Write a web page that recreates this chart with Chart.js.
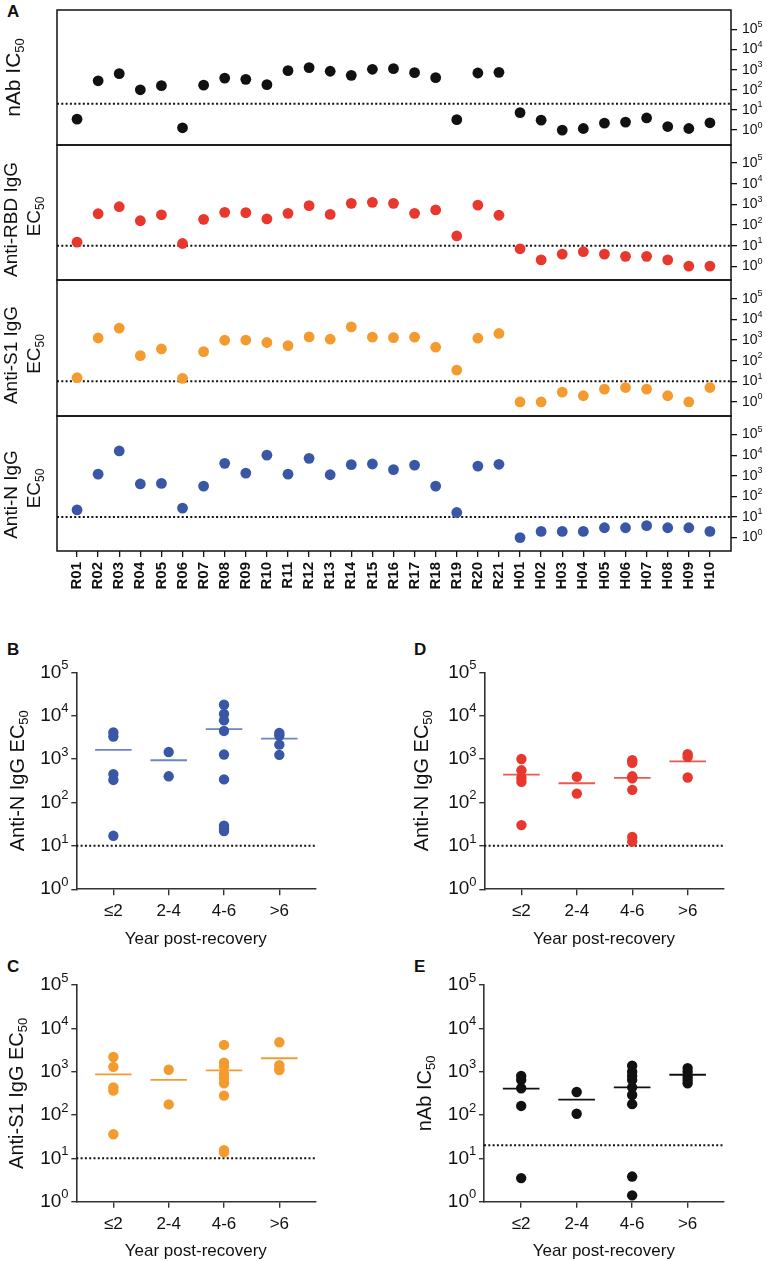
<!DOCTYPE html>
<html>
<head>
<meta charset="utf-8">
<script src="https://cdn.jsdelivr.net/npm/chart.js@4.4.1/dist/chart.umd.min.js"></script>
<style>
  html, body { margin: 0; padding: 0; background: #fff; }
  #fig { position: relative; width: 767px; height: 1261px; overflow: hidden; }
  #fig canvas { position: absolute; }
  .tag { position: absolute; font: bold 17px/1 "Liberation Sans", Arial, sans-serif; color: #111; }
</style>
</head>
<body>
<div id="fig">
  <div class="tag" style="left:7px;top:3px">A</div>
  <div class="tag" style="left:7px;top:641px">B</div>
  <div class="tag" style="left:414px;top:641px">D</div>
  <div class="tag" style="left:7px;top:958px">C</div>
  <div class="tag" style="left:414px;top:958px">E</div>

  <canvas id="a1" width="767" height="167" style="left:0;top:-6px"></canvas>
  <canvas id="a2" width="767" height="167" style="left:0;top:129px"></canvas>
  <canvas id="a3" width="767" height="168" style="left:0;top:264px"></canvas>
  <canvas id="a4" width="767" height="211" style="left:0;top:400px"></canvas>

  <canvas id="b" width="383" height="310" style="left:0;top:648px"></canvas>
  <canvas id="d" width="383" height="310" style="left:384px;top:648px"></canvas>
  <canvas id="c" width="383" height="303" style="left:0;top:961px"></canvas>
  <canvas id="e" width="383" height="303" style="left:384px;top:961px"></canvas>
</div>

<script>
// ---- data ----
const patients = ['R01','R02','R03','R04','R05','R06','R07','R08','R09','R10',
                  'R11','R12','R13','R14','R15','R16','R17','R18','R19','R20','R21',
                  'H01','H02','H03','H04','H05','H06','H07','H08','H09','H10'];

const nabIC50 = [3.5,280,630,100,160,1.3,170,380,330,180,
                 890,1260,830,520,1040,1120,710,400,3.3,680,735,
                 7.4,3.1,1.0,1.2,2.2,2.5,4,1.5,1.2,2.3];
const rbdEC50 = [15,355,775,163,316,13,190,415,400,200,
                 370,870,330,1130,1260,1130,370,540,30,930,300,
                 7.2,2.1,4,5.2,4,3.1,3.1,2.1,1.05,1.05];
const s1EC50  = [15,1260,3800,175,370,14,275,980,1000,760,
                 540,1420,1100,4370,1380,1320,1380,450,35,1230,2090,
                 1,1,3,2,4.2,5,4.2,2,1,5];
const nEC50   = [22,1200,16000,400,425,27,316,4000,1350,10000,
                 1200,7000,1120,3470,3720,2000,3300,316,16.5,2950,3600,
                 1,2,2,2,3,3,3.8,3,3,2];

const yearGroups = ['≤2','2-4','4-6','>6'];

const nByYear   = [[4100,3300,450,330,17],[1450,400],[17900,11000,7800,4450,1270,340,29,25,22],[4000,3500,2150,1250]];
const nMeans    = [1620,940,4880,2950];
const redByYear = [[1000,550,370,300,30],[390,160],[940,820,400,360,195,16,12.5],[1290,1120,375]];
const redMeans  = [440,277,370,880];
const s1ByYear  = [[2180,1290,435,365,36],[1110,176],[4150,1620,1310,890,705,540,280,15.5,13.8],[4770,1410,1175,1090]];
const s1Means   = [870,645,1070,2040];
const nabByYear = [[800,645,415,162,3.5],[340,107],[1370,1000,800,645,435,290,178,3.8,1.4],[1210,1000,760,645,540]];
const nabMeans  = [405,226,435,850];

const nabCutoff = 20;
const ecCutoff = 10;
const logTicks = [1,10,100,1000,10000,100000];

// ---- style ----
const FONT = '"Liberation Sans", Arial, Helvetica, sans-serif';
Chart.defaults.font.family = FONT;
Chart.defaults.color = '#111';
Chart.defaults.animation = false;

const BLACK = '#111111', RED = '#e8372c', ORANGE = '#f49b30', BLUE = '#3a57a6';

// box around each strip of panel A
const framePlugin = {
  id: 'frame',
  afterDatasetsDraw(chart, args, opts) {
    if (!opts.show) return;
    const a = chart.chartArea, ctx = chart.ctx;
    ctx.save();
    ctx.strokeStyle = '#111';
    ctx.lineWidth = 1.5;
    ctx.strokeRect(a.left, a.top, a.right - a.left, a.bottom - a.top);
    ctx.restore();
  }
};

// the y ticks print "10"; this adds the power as a superscript next to it
const expTicks = {
  id: 'expTicks',
  afterDraw(chart, args, opts) {
    if (!opts.size) return;
    const s = chart.scales.y, ctx = chart.ctx;
    const base = opts.size, small = Math.round(base * 0.66);
    const tl = s.options.grid.tickLength, pad = s.options.ticks.padding;
    ctx.save();
    ctx.fillStyle = '#111';
    ctx.textBaseline = 'middle';
    ctx.textAlign = 'left';
    ctx.font = base + 'px ' + FONT;
    const w10 = ctx.measureText('10').width;
    ctx.font = small + 'px ' + FONT;
    s.ticks.forEach(t => {
      const y = s.getPixelForValue(t.value);
      const x = s.position === 'right' ? s.left + tl + pad + w10 : s.right - tl - pad;
      ctx.fillText(String(Math.round(Math.log10(t.value))), x, y - base * 0.36);
    });
    ctx.restore();
  }
};

// rotated axis titles with a subscript part
const sideTitle = {
  id: 'sideTitle',
  afterDraw(chart, args, opts) {
    if (!opts.lines) return;
    const ctx = chart.ctx, a = chart.chartArea;
    const cy = (a.top + a.bottom) / 2;
    const size = opts.size, small = Math.round(size * 0.64);
    opts.lines.forEach((ln, i) => {
      ctx.save();
      ctx.translate(opts.x[i], cy + (opts.dy ? opts.dy[i] : 0));
      ctx.rotate(-Math.PI / 2);
      ctx.fillStyle = '#111';
      ctx.textBaseline = 'middle';
      ctx.textAlign = 'left';
      ctx.font = size + 'px ' + FONT;
      const w1 = ctx.measureText(ln[0]).width;
      ctx.font = small + 'px ' + FONT;
      const w2 = ln[1] ? ctx.measureText(ln[1]).width : 0;
      const x0 = -(w1 + w2) / 2;
      ctx.font = size + 'px ' + FONT;
      ctx.fillText(ln[0], x0, 0);
      if (ln[1]) {
        ctx.font = small + 'px ' + FONT;
        ctx.fillText(ln[1], x0 + w1, size * 0.32);
      }
      ctx.restore();
    });
  }
};
Chart.register(framePlugin, expTicks, sideTitle);

// ---- panel A strips ----
const xMinA = -0.95, xMaxA = 31.0;

function makeStrip(id, values, color, cutoff, title, yExp, isBottom) {
  return new Chart(document.getElementById(id), {
    type: 'scatter',
    data: {
      datasets: [
        { data: values.map((v, i) => ({ x: i, y: v })),
          backgroundColor: color, borderColor: color, borderWidth: 0,
          pointRadius: 5.4, pointHoverRadius: 5.4 },
        { data: [{ x: xMinA, y: cutoff }, { x: xMaxA, y: cutoff }],
          showLine: true, borderColor: '#111', borderWidth: 2,
          borderDash: [2, 2.3], pointRadius: 0 }
      ]
    },
    options: {
      responsive: false,
      events: [],
      layout: { padding: { left: 57, right: 0, top: 16, bottom: isBottom ? 0 : 16 } },
      plugins: { legend: { display: false }, tooltip: { enabled: false },
                 frame: { show: true }, expTicks: { size: 14 }, sideTitle: title },
      scales: {
        x: {
          type: 'linear', min: xMinA, max: xMaxA, bounds: 'data',
          display: isBottom,
          afterBuildTicks: s => { s.ticks = patients.map((p, i) => ({ value: i })); },
          afterFit: s => { s.height = isBottom ? 60 : 0; },
          grid: { drawOnChartArea: false, drawTicks: true, tickLength: 6, color: '#111', lineWidth: 1.3 },
          border: { display: false },
          ticks: { autoSkip: false, minRotation: 90, maxRotation: 90, padding: 5,
                   font: { size: 15, weight: 'bold' }, color: '#111',
                   callback: v => patients[v] }
        },
        y: {
          type: 'logarithmic', position: 'right', bounds: 'data',
          min: Math.pow(10, yExp[0]), max: Math.pow(10, yExp[1]),
          afterBuildTicks: s => { s.ticks = logTicks.map(v => ({ value: v })); },
          afterFit: s => { s.width = 36; },
          grid: { drawOnChartArea: false, drawTicks: true, tickLength: 6, color: '#111', lineWidth: 1.3 },
          border: { display: false },
          ticks: { autoSkip: false, padding: 5, font: { size: 14 }, color: '#111', callback: () => '10' }
        }
      }
    }
  });
}

makeStrip('a1', nabIC50, BLACK, nabCutoff,
  { lines: [['nAb IC', '50']], x: [14], size: 21 }, [-0.74, 5.96], false);
makeStrip('a2', rbdEC50, RED, ecCutoff,
  { lines: [['Anti-RBD IgG', ''], ['EC', '50']], x: [12, 35], dy: [7, 4], size: 19 }, [-0.65, 5.87], false);
makeStrip('a3', s1EC50, ORANGE, ecCutoff,
  { lines: [['Anti-S1 IgG', ''], ['EC', '50']], x: [12, 35], dy: [7, 6], size: 19 }, [-0.68, 5.91], false);
makeStrip('a4', nEC50, BLUE, ecCutoff,
  { lines: [['Anti-N IgG', ''], ['EC', '50']], x: [12, 35], dy: [11, 5], size: 19 }, [-0.65, 5.9], true);

// ---- panels B-E ----
const xMinG = -0.67, xMaxG = 3.65;

function makeGroupPlot(id, byYear, means, color, meanColor, cutoff, title, pad, yWidth) {
  const points = byYear.flatMap((arr, i) => arr.map(v => ({ x: i, y: v })));
  const meanSets = means.map((m, i) => ({
    data: [{ x: i - 0.33, y: m }, { x: i + 0.33, y: m }],
    showLine: true, borderColor: meanColor, borderWidth: 1.8, pointRadius: 0
  }));
  return new Chart(document.getElementById(id), {
    type: 'scatter',
    data: {
      datasets: [
        { data: points, backgroundColor: color, borderColor: color, borderWidth: 0,
          pointRadius: 5.2, pointHoverRadius: 5.2 },
        ...meanSets,
        { data: [{ x: xMinG, y: cutoff }, { x: xMaxG, y: cutoff }],
          showLine: true, borderColor: '#111', borderWidth: 2,
          borderDash: [2, 2.3], pointRadius: 0 }
      ]
    },
    options: {
      responsive: false,
      events: [],
      layout: { padding: pad },
      plugins: { legend: { display: false }, tooltip: { enabled: false },
                 expTicks: { size: 19 }, sideTitle: title },
      scales: {
        x: {
          type: 'linear', min: xMinG, max: xMaxG, bounds: 'data',
          afterBuildTicks: s => { s.ticks = yearGroups.map((g, i) => ({ value: i })); },
          afterFit: s => { s.height = 60; },
          grid: { drawOnChartArea: false, drawTicks: true, tickLength: 6, color: '#333', lineWidth: 1.4 },
          border: { display: true, color: '#333', width: 1.6 },
          ticks: { autoSkip: false, padding: 6, font: { size: 17 }, color: '#111', callback: v => yearGroups[v] },
          title: { display: true, text: 'Year post-recovery', font: { size: 17 }, color: '#111',
                   padding: { top: 0, bottom: 0 } }
        },
        y: {
          type: 'logarithmic', min: 1, max: 100000, bounds: 'data',
          afterBuildTicks: s => { s.ticks = logTicks.map(v => ({ value: v })); },
          afterFit: s => { s.width = yWidth; },
          grid: { drawOnChartArea: false, drawTicks: true, tickLength: 5, color: '#333', lineWidth: 1.4 },
          border: { display: true, color: '#333', width: 1.6 },
          ticks: { autoSkip: false, padding: 10, font: { size: 19 }, color: '#111', callback: () => '10' }
        }
      }
    }
  });
}

makeGroupPlot('b', nByYear, nMeans, BLUE, '#6c85c8', ecCutoff,
  { lines: [['Anti-N IgG EC', '50']], x: [18], size: 20 },
  { left: 0, right: 67.7, top: 24.3, bottom: 8.8 }, 76.3);
makeGroupPlot('d', redByYear, redMeans, RED, '#e9574e', ecCutoff,
  { lines: [['Anti-N IgG EC', '50']], x: [38], size: 20 },
  { left: 0, right: 43.3, top: 24.3, bottom: 8.8 }, 100.3);
makeGroupPlot('c', s1ByYear, s1Means, ORANGE, ORANGE, ecCutoff,
  { lines: [['Anti-S1 IgG EC', '50']], x: [17], size: 20 },
  { left: 0, right: 67.7, top: 24, bottom: 2.3 }, 76.3);
makeGroupPlot('e', nabByYear, nabMeans, BLACK, BLACK, nabCutoff,
  { lines: [['nAb IC', '50']], x: [41], size: 20 },
  { left: 0, right: 43.3, top: 24, bottom: 2.3 }, 100);
</script>
</body>
</html>
